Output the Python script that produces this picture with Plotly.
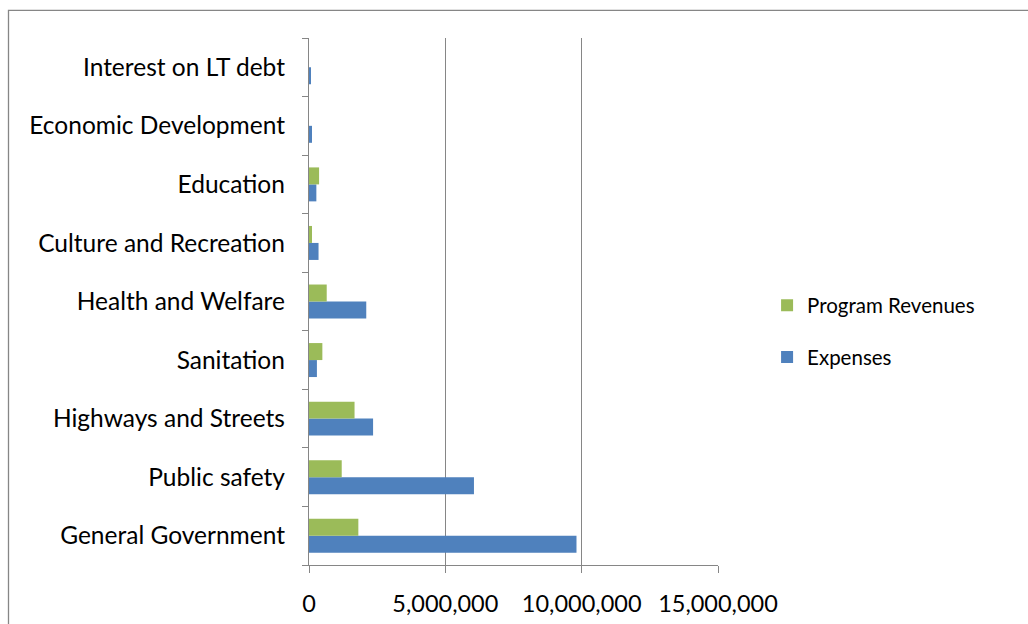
import plotly.graph_objects as go

# Functions, listed bottom to top
categories = [
    "General Government",
    "Public safety",
    "Highways and Streets",
    "Sanitation",
    "Health and Welfare",
    "Culture and Recreation",
    "Education",
    "Economic Development",
    "Interest on LT debt",
]
expenses = [9810000, 6050000, 2350000, 290000, 2100000, 350000, 270000, 110000, 40000]
program_revenues = [1810000, 1200000, 1670000, 490000, 650000, 110000, 370000, 0, 0]
x_tick_values = [0, 5000000, 10000000, 15000000]
x_tick_labels = ["0", "5,000,000", "10,000,000", "15,000,000"]

FONT = "Lato, 'Open Sans', sans-serif"
GRID = "#868686"

fig = go.Figure()
fig.add_trace(go.Bar(
    y=categories, x=expenses, orientation="h", name="Expenses",
    marker=dict(color="#4F81BD", line=dict(width=0)),
    legendgroup="exp", legendrank=2,
))
fig.add_trace(go.Bar(
    y=categories, x=program_revenues, orientation="h", name="Program Revenues",
    marker=dict(color="#9BBB59", line=dict(width=0)),
    legendgroup="rev", legendrank=1,
))

# Outer chart frame (extends past the right and bottom of the page)
fig.add_shape(
    type="rect", xref="paper", yref="paper",
    x0=(8.5 - 309) / 409, x1=(1100 - 309) / 409,
    y0=-(700 - 565) / 526, y1=1 + (38 - 10.5) / 526,
    line=dict(color=GRID, width=1.3), fillcolor="rgba(0,0,0,0)", layer="below",
)

fig.update_layout(
    width=1028, height=624,
    margin=dict(l=309, r=310, t=38, b=59, autoexpand=False),
    paper_bgcolor="white", plot_bgcolor="white",
    barmode="group", bargap=0.42, bargroupgap=0,
    font=dict(family=FONT, color="#000000"),
    showlegend=True,
    legend=dict(
        x=1.12, y=0.443, xanchor="left", yanchor="middle",
        traceorder="grouped", tracegroupgap=22,
        font=dict(size=20.5, family=FONT), itemwidth=30,
        bgcolor="rgba(0,0,0,0)",
    ),
    xaxis=dict(
        range=[0, 15000000], tickvals=x_tick_values, ticktext=x_tick_labels,
        showgrid=True, gridcolor=GRID, gridwidth=1.3,
        showline=True, linecolor=GRID, linewidth=1.3,
        ticks="outside", ticklen=7, tickcolor=GRID, tickwidth=1.3,
        tickfont=dict(size=23.5, family=FONT), zeroline=False,
        ticklabelstandoff=11, automargin=False,
    ),
    yaxis=dict(
        type="category", showgrid=False,
        showline=True, linecolor=GRID, linewidth=1.3,
        ticks="outside", ticklen=6, tickcolor=GRID, tickwidth=1.3,
        tickson="boundaries",
        tickfont=dict(size=24.5, family=FONT),
        ticklabelstandoff=18, automargin=False,
    ),
)

fig.write_html("out.html")
